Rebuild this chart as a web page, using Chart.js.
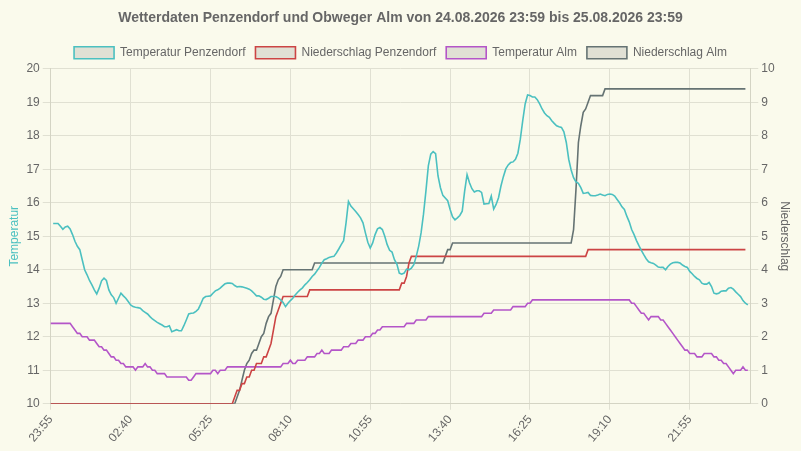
<!DOCTYPE html>
<html>
<head>
<meta charset="utf-8">
<script src="https://cdn.jsdelivr.net/npm/chart.js@4"></script>
<style>
html,body{margin:0;padding:0;background:#fafaec;}
#wrap{width:801px;height:451px;}
</style>
</head>
<body>
<div id="wrap"><canvas id="c"></canvas></div>
<script>
const startTime = [23, 55];
const labelCount = 290;
const labels = [];
for (let k = 0; k < labelCount; k++) {
  const m = (startTime[0] * 60 + startTime[1] + k * 5) % 1440;
  labels.push(String(Math.floor(m / 60)).padStart(2, '0') + ':' + String(m % 60).padStart(2, '0'));
}

const tempPenzendorf = [null,
15.38,15.38,15.38,15.3,15.21,15.28,15.3,15.22,15.05,14.85,
14.7,14.6,14.3,14.0,13.85,13.68,13.55,13.4,13.28,13.45,
13.67,13.75,13.68,13.4,13.25,13.17,13.0,13.15,13.3,13.22,
13.15,13.05,12.95,12.9,12.88,12.87,12.85,12.78,12.73,12.68,
12.6,12.53,12.48,12.43,12.39,12.35,12.3,12.3,12.33,12.15,
12.18,12.21,12.18,12.18,12.33,12.5,12.68,12.7,12.71,12.76,
12.83,12.98,13.15,13.2,13.21,13.22,13.3,13.37,13.4,13.45,
13.52,13.58,13.6,13.6,13.59,13.53,13.49,13.5,13.49,13.47,
13.45,13.42,13.37,13.3,13.22,13.22,13.18,13.12,13.11,13.15,
13.2,13.2,13.2,13.16,13.1,13.02,12.9,13.0,13.08,13.15,
13.25,13.33,13.4,13.46,13.55,13.62,13.7,13.8,13.87,13.97,
14.07,14.2,14.3,14.33,14.37,14.39,14.4,14.5,14.62,14.75,
14.87,15.4,16.04,15.9,15.82,15.74,15.65,15.55,15.4,15.1,
14.82,14.65,14.8,15.05,15.22,15.26,15.2,15.0,14.75,14.58,
14.53,14.3,14.17,13.9,13.87,13.9,14.02,14.0,14.05,14.15,
14.4,14.7,15.1,15.66,16.35,17.1,17.45,17.53,17.47,16.8,
16.45,16.22,16.14,16.06,15.8,15.58,15.49,15.55,15.62,15.75,
16.35,16.84,16.6,16.42,16.32,16.36,16.36,16.31,15.96,15.97,
15.98,16.2,15.81,15.95,16.15,16.5,16.78,17.01,17.13,17.2,
17.22,17.3,17.48,17.9,18.45,18.95,19.22,19.2,19.16,19.16,
19.08,18.95,18.8,18.68,18.6,18.55,18.45,18.37,18.3,18.27,
18.25,18.12,17.8,17.3,16.98,16.75,16.62,16.58,16.45,16.28,
16.29,16.31,16.22,16.21,16.21,16.23,16.26,16.23,16.21,16.25,
16.26,16.25,16.2,16.1,16.0,15.88,15.8,15.6,15.43,15.2,
15.05,14.87,14.72,14.58,14.45,14.33,14.24,14.21,14.19,14.14,
14.08,14.07,14.07,14.0,14.1,14.17,14.21,14.22,14.22,14.2,
14.14,14.1,14.07,13.95,13.88,13.8,13.74,13.7,13.6,13.57,
13.57,13.62,13.5,13.3,13.28,13.3,13.36,13.37,13.37,13.45,
13.47,13.42,13.34,13.27,13.2,13.08,13.0,12.95];

const rainPenzendorf = [
0,0,0,0,0,0,0,0,0,0, 0,0,0,0,0,0,0,0,0,0,
0,0,0,0,0,0,0,0,0,0, 0,0,0,0,0,0,0,0,0,0,
0,0,0,0,0,0,0,0,0,0, 0,0,0,0,0,0,0,0,0,0,
0,0,0,0,0,0,0,0,0,0, 0,0,0,0,0,0,
0.2,0.4,0.4,0.6,0.6,0.8,0.8,1.0,1.0,1.2,1.2,1.2,1.4,1.4,1.6,1.8,2.2,2.6,2.8,3.0,
3.2,3.2,3.2,3.2,3.2,3.2,3.2,3.2,3.2,3.2,3.2,
3.4,3.4,3.4,3.4,3.4,3.4,3.4,3.4,3.4,3.4, 3.4,3.4,3.4,3.4,3.4,3.4,3.4,3.4,3.4,3.4,
3.4,3.4,3.4,3.4,3.4,3.4,3.4,3.4,3.4,3.4, 3.4,3.4,3.4,3.4,3.4,3.4,3.4,3.4,
3.6,3.6,3.8,4.2,4.4,
4.4,4.4,4.4,4.4,4.4,4.4,4.4,4.4,4.4,4.4, 4.4,4.4,4.4,4.4,4.4,4.4,4.4,4.4,4.4,4.4,
4.4,4.4,4.4,4.4,4.4,4.4,4.4,4.4,4.4,4.4, 4.4,4.4,4.4,4.4,4.4,4.4,4.4,4.4,4.4,4.4,
4.4,4.4,4.4,4.4,4.4,4.4,4.4,4.4,4.4,4.4, 4.4,4.4,4.4,4.4,4.4,4.4,4.4,4.4,4.4,4.4,
4.4,4.4,4.4,4.4,4.4,4.4,4.4,4.4,4.4,4.4, 4.4,4.4,
4.6,4.6,4.6,4.6,4.6,4.6,4.6,4.6,4.6,4.6, 4.6,4.6,4.6,4.6,4.6,4.6,4.6,4.6,4.6,4.6,
4.6,4.6,4.6,4.6,4.6,4.6,4.6,4.6,4.6,4.6, 4.6,4.6,4.6,4.6,4.6,4.6,4.6,4.6,4.6,4.6,
4.6,4.6,4.6,4.6,4.6,4.6,4.6,4.6,4.6,4.6, 4.6,4.6,4.6,4.6,4.6,4.6,4.6,4.6,4.6,4.6,
4.6,4.6,4.6,4.6,4.6,4.6];

const tempAlm = [
12.4,12.4,12.4,12.4,12.4,12.4,12.4,12.4,12.4,12.3,
12.2,12.1,12.1,12.0,12.0,12.0,11.9,11.9,11.9,11.8,
11.7,11.7,11.6,11.6,11.5,11.4,11.4,11.3,11.3,11.2,
11.2,11.1,11.1,11.1,11.1,11.0,11.1,11.1,11.1,11.2,
11.1,11.1,11.0,11.0,10.9,10.9,10.9,10.9,10.8,10.8,
10.8,10.8,10.8,10.8,10.8,10.8,10.8,10.7,10.7,10.8,
10.9,10.9,10.9,10.9,10.9,10.9,10.9,11.0,11.0,10.9,
11.0,11.0,11.0,11.1,11.1,11.1,11.1,11.1,11.1,11.1,
11.1,11.1,11.1,11.1,11.1,11.1,11.1,11.1,11.1,11.1,
11.1,11.1,11.1,11.1,11.1,11.1,11.2,11.2,11.2,11.3,
11.2,11.2,11.3,11.3,11.3,11.3,11.4,11.4,11.4,11.4,
11.5,11.5,11.6,11.5,11.5,11.5,11.6,11.6,11.6,11.6,
11.6,11.7,11.7,11.7,11.8,11.8,11.8,11.9,11.9,11.9,
12.0,12.0,12.0,12.1,12.1,12.2,12.2,12.3,12.3,12.3,
12.3,12.3,12.3,12.3,12.3,12.3,12.3,12.4,12.4,12.4,
12.4,12.5,12.5,12.5,12.5,12.5,12.6,12.6,12.6,12.6,
12.6,12.6,12.6,12.6,12.6,12.6,12.6,12.6,12.6,12.6,
12.6,12.6,12.6,12.6,12.6,12.6,12.6,12.6,12.6,12.7,
12.7,12.7,12.7,12.8,12.8,12.8,12.8,12.8,12.8,12.8,
12.8,12.9,12.9,12.9,12.9,12.9,12.9,13.0,13.0,13.1,
13.1,13.1,13.1,13.1,13.1,13.1,13.1,13.1,13.1,13.1,
13.1,13.1,13.1,13.1,13.1,13.1,13.1,13.1,13.1,13.1,
13.1,13.1,13.1,13.1,13.1,13.1,13.1,13.1,13.1,13.1,
13.1,13.1,13.1,13.1,13.1,13.1,13.1,13.1,13.1,13.1,
13.0,13.0,12.9,12.8,12.7,12.7,12.6,12.5,12.6,12.6,
12.6,12.6,12.5,12.5,12.4,12.3,12.2,12.1,12.0,11.9,
11.8,11.7,11.6,11.6,11.5,11.5,11.5,11.4,11.4,11.4,
11.5,11.5,11.5,11.5,11.4,11.4,11.3,11.3,11.2,11.2,
11.1,11.0,10.9,11.0,11.0,11.0,11.1,11.0,11.0];

const rainAlm = [
0,0,0,0,0,0,0,0,0,0, 0,0,0,0,0,0,0,0,0,0,
0,0,0,0,0,0,0,0,0,0, 0,0,0,0,0,0,0,0,0,0,
0,0,0,0,0,0,0,0,0,0, 0,0,0,0,0,0,0,0,0,0,
0,0,0,0,0,0,0,0,0,0, 0,0,0,0,0,0,0,
0.2,0.4,0.7,1.0,1.2,1.3,1.5,1.6,1.6,1.8,2.0,2.1,2.4,2.6,2.7,3.1,3.5,3.7,3.8,
4.0,4.0,4.0,4.0,4.0,4.0,4.0,4.0,4.0,4.0,4.0,4.0,4.0,
4.2,4.2,4.2,4.2,4.2,4.2,4.2,4.2,4.2,4.2, 4.2,4.2,4.2,4.2,4.2,4.2,4.2,4.2,4.2,4.2,
4.2,4.2,4.2,4.2,4.2,4.2,4.2,4.2,4.2,4.2, 4.2,4.2,4.2,4.2,4.2,4.2,4.2,4.2,4.2,4.2,
4.2,4.2,4.2,4.2,4.2,4.2,4.2,4.2,4.2,4.2, 4.2,4.2,4.2,4.2,
4.4,4.6,4.6,
4.8,4.8,4.8,4.8,4.8,4.8,4.8,4.8,4.8,4.8, 4.8,4.8,4.8,4.8,4.8,4.8,4.8,4.8,4.8,4.8,
4.8,4.8,4.8,4.8,4.8,4.8,4.8,4.8,4.8,4.8, 4.8,4.8,4.8,4.8,4.8,4.8,4.8,4.8,4.8,4.8,
4.8,4.8,4.8,4.8,4.8,4.8,4.8,4.8,4.8,4.8,
5.2,6.4,7.8,8.3,8.7,8.8,9.0,9.2,9.2,9.2,9.2,9.2,9.2,
9.4,9.4,9.4,9.4,9.4,9.4,9.4,9.4,9.4,9.4, 9.4,9.4,9.4,9.4,9.4,9.4,9.4,9.4,9.4,9.4,
9.4,9.4,9.4,9.4,9.4,9.4,9.4,9.4,9.4,9.4, 9.4,9.4,9.4,9.4,9.4,9.4,9.4,9.4,9.4,9.4,
9.4,9.4,9.4,9.4,9.4,9.4,9.4,9.4,9.4,9.4, 9.4,9.4,9.4,9.4,9.4,9.4,9.4,9.4,9.4];

const tickEvery = 33;
const titleText = 'Wetterdaten Penzendorf und Obweger Alm von 24.08.2026 23:59 bis 25.08.2026 23:59';

Chart.defaults.font.family = "'Liberation Sans', Arial, sans-serif";
Chart.defaults.font.size = 12;
Chart.defaults.color = '#666';

const gridColor = '#e0e0d2';
const boxFill = '#e0e0d4';

new Chart(document.getElementById('c'), {
  type: 'line',
  data: {
    labels: labels,
    datasets: [
      {label: 'Temperatur Penzendorf', data: tempPenzendorf, yAxisID: 'y', borderColor: '#4bc0c0', backgroundColor: boxFill},
      {label: 'Niederschlag Penzendorf', data: rainPenzendorf, yAxisID: 'y1', borderColor: '#cc4444', backgroundColor: boxFill},
      {label: 'Temperatur Alm', data: tempAlm, yAxisID: 'y', borderColor: '#b455c8', backgroundColor: boxFill},
      {label: 'Niederschlag Alm', data: rainAlm, yAxisID: 'y1', borderColor: '#657373', backgroundColor: boxFill}
    ]
  },
  options: {
    responsive: true,
    maintainAspectRatio: false,
    animation: false,
    elements: {point: {radius: 0}, line: {borderWidth: 1.6, tension: 0}},
    layout: {padding: {left: 7, right: 7, top: 0, bottom: 3}},
    plugins: {
      title: {display: true, text: titleText, font: {size: 14, weight: 'bold'}, color: '#666', padding: {top: 10, bottom: 10}},
      legend: {labels: {boxWidth: 40, boxHeight: 12, padding: 10, color: '#666'}},
      tooltip: {enabled: false}
    },
    scales: {
      x: {
        grid: {color: gridColor, drawTicks: true, tickLength: 6},
        border: {color: '#d4d4c4'},
        ticks: {
          autoSkip: false, minRotation: 50, maxRotation: 50,
          callback: function(v, i) { return i % tickEvery === 0 ? this.getLabelForValue(v) : null; }
        }
      },
      y: {
        position: 'left', min: 10, max: 20,
        ticks: {stepSize: 1},
        grid: {color: gridColor},
        border: {color: '#d4d4c4'},
        title: {display: true, text: 'Temperatur', color: '#4bc0c0', padding: {top: 0, bottom: 2}}
      },
      y1: {
        position: 'right', min: 0, max: 10,
        ticks: {stepSize: 1},
        grid: {drawOnChartArea: false, color: gridColor},
        border: {color: '#d4d4c4'},
        title: {display: true, text: 'Niederschlag', color: '#666', padding: {top: 2, bottom: 0}}
      }
    }
  },
  plugins: [{
    id: 'bg',
    beforeDraw(chart) {
      const ctx = chart.ctx;
      ctx.save();
      ctx.fillStyle = '#fafaec';
      ctx.fillRect(0, 0, chart.width, chart.height);
      ctx.restore();
    }
  }]
});
</script>
</body>
</html>
